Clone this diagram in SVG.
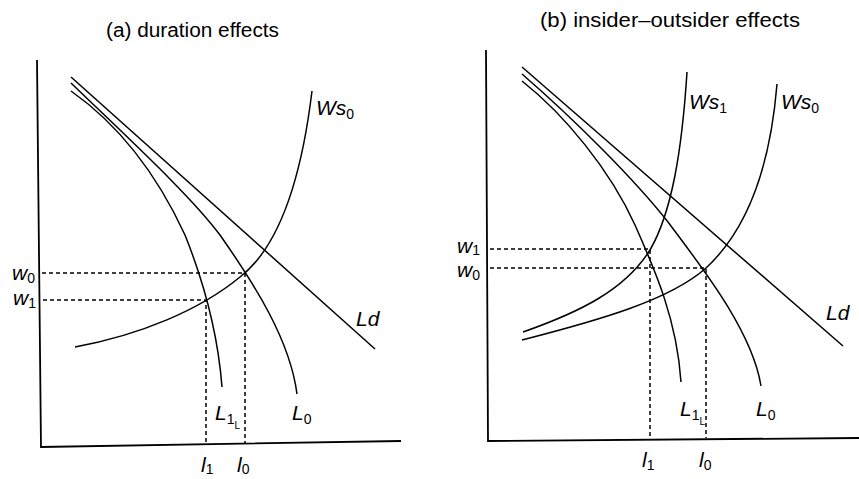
<svg xmlns="http://www.w3.org/2000/svg" width="859" height="479" viewBox="0 0 859 479">
<style>
.ax{fill:none;stroke:#000;stroke-width:1.8}
.cv{fill:none;stroke:#000;stroke-width:1.5}
.ds{fill:none;stroke:#000;stroke-width:1.5;stroke-dasharray:4 3}
.tt{font-family:"Liberation Sans",Arial,sans-serif;font-size:20px;fill:#000}
.lb{font-family:"Liberation Sans",Arial,sans-serif;font-size:21px;font-style:italic;fill:#000}
.sb{font-size:14px;font-style:normal}
.ss{font-size:10px;font-style:normal}
</style>
<rect width="859" height="479" fill="#fff"/>
<g id="panel-a">
  <text class="tt" x="106" y="37" textLength="173" lengthAdjust="spacingAndGlyphs">(a)  duration effects</text>
  <g id="axes-a">
    <path class="ax" d="M37,60 L41,447 L401,441"/>
  </g>
  <g id="connectors-a">
    <path id="Ld-a" class="cv" d="M71,77 L375,349"/>
    <path id="L0-a" class="cv" d="M71,83 C130,140 190,195 220,235 C255,285 290,340 297,394"/>
    <path id="L1-a" class="cv" d="M71,91 C115,122 155,170 185,235 C205,285 218,335 222,387"/>
    <path id="Ws0-a" class="cv" d="M75,347 C140,335 200,310 240,277 C275,250 300,190 312,91"/>
    <path class="ds" d="M42,273 H245 V443"/>
    <path class="ds" d="M43,300 H206 V443"/>
  </g>
  <g id="labels-a">
    <text class="lb" x="12" y="280">w<tspan class="sb" dy="3">0</tspan></text>
    <text class="lb" x="13" y="305">w<tspan class="sb" dy="3">1</tspan></text>
    <text class="lb" x="316" y="115">Ws<tspan class="sb" dy="4">0</tspan></text>
    <text class="lb" x="356" y="326">Ld</text>
    <text class="lb" x="215" y="420">L<tspan class="sb" dy="4">1</tspan><tspan class="ss" dy="5">L</tspan></text>
    <text class="lb" x="292" y="420">L<tspan class="sb" dy="4">0</tspan></text>
    <text class="lb" x="201" y="472">l<tspan class="sb" dy="2">1</tspan></text>
    <text class="lb" x="237" y="472">l<tspan class="sb" dy="2">0</tspan></text>
  </g>
</g>
<g id="panel-b">
  <text class="tt" x="540" y="27" textLength="260" lengthAdjust="spacingAndGlyphs">(b)  insider–outsider effects</text>
  <g id="axes-b">
    <path class="ax" d="M486,50 L488,441 L859,438"/>
  </g>
  <g id="connectors-b">
    <path id="Ld-b" class="cv" d="M522,67 L843,346"/>
    <path id="L0-b" class="cv" d="M522,74 C575,120 635,180 668,222 C700,265 752,330 761,386"/>
    <path id="L1-b" class="cv" d="M522,81 C565,115 610,170 635,225 C655,270 677,320 681,382"/>
    <path id="Ws1-b" class="cv" d="M523,332 C580,312 625,290 650,250 C672,212 682,150 687,72"/>
    <path id="Ws0-b" class="cv" d="M522,340 C600,320 670,300 706,268 C745,232 770,170 777,84"/>
    <path class="ds" d="M490,249 H650 V438"/>
    <path class="ds" d="M490,268 H706 V438"/>
  </g>
  <g id="labels-b">
    <text class="lb" x="457" y="253">w<tspan class="sb" dy="2">1</tspan></text>
    <text class="lb" x="457" y="277">w<tspan class="sb" dy="3">0</tspan></text>
    <text class="lb" x="689" y="109">Ws<tspan class="sb" dy="4">1</tspan></text>
    <text class="lb" x="781" y="109">Ws<tspan class="sb" dy="4">0</tspan></text>
    <text class="lb" x="826" y="320">Ld</text>
    <text class="lb" x="680" y="416">L<tspan class="sb" dy="4">1</tspan><tspan class="ss" dy="5">L</tspan></text>
    <text class="lb" x="756" y="416">L<tspan class="sb" dy="4">0</tspan></text>
    <text class="lb" x="642" y="467">l<tspan class="sb" dy="3">1</tspan></text>
    <text class="lb" x="699" y="467">l<tspan class="sb" dy="3">0</tspan></text>
  </g>
</g>
</svg>
